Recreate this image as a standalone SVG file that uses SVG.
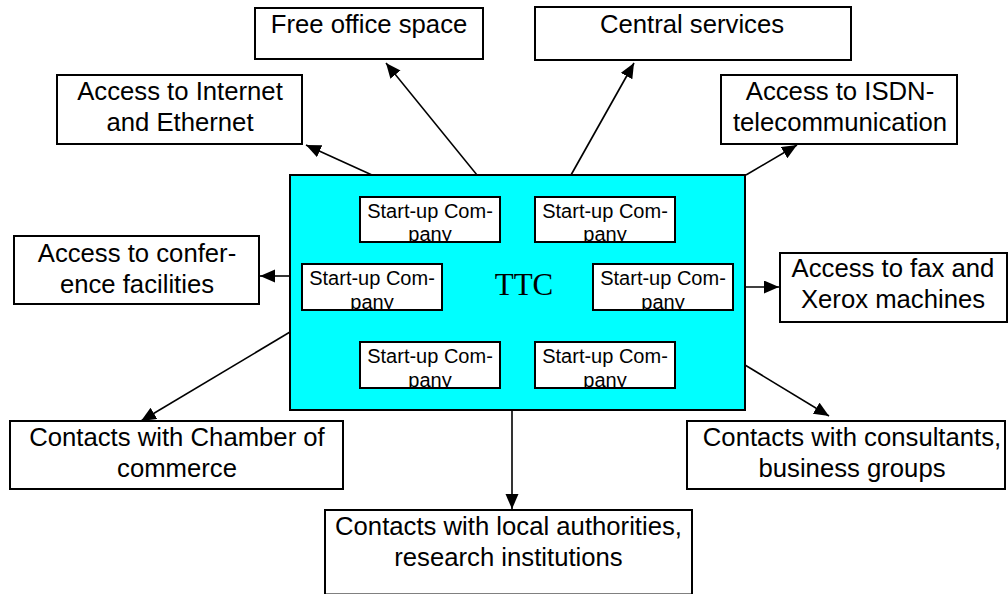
<svg xmlns="http://www.w3.org/2000/svg" width="1008" height="594" viewBox="0 0 1008 594">
<style>
.box{fill:#fff;stroke:#000;stroke-width:2}
.t{font-family:"Liberation Sans",Arial,sans-serif;font-size:25.7px;fill:#000;text-anchor:middle}
.s{font-family:"Liberation Sans",Arial,sans-serif;font-size:20px;fill:#000;text-anchor:middle}
.c{stroke:#000;stroke-width:1.6;fill:none;marker-end:url(#ah)}
</style>
<defs>
<marker id="ah" markerUnits="userSpaceOnUse" markerWidth="16" markerHeight="14" refX="15" refY="6.5" orient="auto">
<path d="M0,0 L15,6.5 L0,13 Z" fill="#000"/>
</marker>
<clipPath id="c1"><rect x="361" y="198" width="138" height="43"/></clipPath>
<clipPath id="c2"><rect x="536" y="198" width="138" height="43"/></clipPath>
<clipPath id="c3"><rect x="303" y="265" width="138" height="44"/></clipPath>
<clipPath id="c4"><rect x="594" y="265" width="138" height="44"/></clipPath>
<clipPath id="c5"><rect x="361" y="343" width="138" height="44"/></clipPath>
<clipPath id="c6"><rect x="536" y="343" width="138" height="44"/></clipPath>
</defs>
<g id="connectors">
<line class="c" x1="372" y1="175" x2="306" y2="145"/>
<line class="c" x1="477" y1="175" x2="386" y2="63"/>
<line class="c" x1="571" y1="175" x2="634" y2="63"/>
<line class="c" x1="746" y1="175" x2="797" y2="145"/>
<line class="c" x1="290" y1="276" x2="260" y2="276"/>
<line class="c" x1="745" y1="287" x2="779" y2="287"/>
<line class="c" x1="290" y1="332" x2="141" y2="421"/>
<line class="c" x1="745" y1="365" x2="829" y2="416"/>
<line class="c" x1="512" y1="410" x2="512" y2="509"/>
</g>
<g id="ttc">
<rect x="290" y="175" width="455" height="235" fill="#00ffff" stroke="#000" stroke-width="2"/>
<text x="524" y="295" font-family="'Liberation Serif','Times New Roman',serif" font-size="31" text-anchor="middle">TTC</text>
</g>
<g id="s1"><rect class="box" x="360" y="197" width="140" height="45"/><g clip-path="url(#c1)"><text class="s" x="430" y="218">Start-up Com-</text><text class="s" x="430" y="241">pany</text></g></g>
<g id="s2"><rect class="box" x="535" y="197" width="140" height="45"/><g clip-path="url(#c2)"><text class="s" x="605" y="218">Start-up Com-</text><text class="s" x="605" y="241">pany</text></g></g>
<g id="s3"><rect class="box" x="302" y="264" width="140" height="46"/><g clip-path="url(#c3)"><text class="s" x="372" y="285">Start-up Com-</text><text class="s" x="372" y="309">pany</text></g></g>
<g id="s4"><rect class="box" x="593" y="264" width="140" height="46"/><g clip-path="url(#c4)"><text class="s" x="663" y="285">Start-up Com-</text><text class="s" x="663" y="309">pany</text></g></g>
<g id="s5"><rect class="box" x="360" y="342" width="140" height="46"/><g clip-path="url(#c5)"><text class="s" x="430" y="363">Start-up Com-</text><text class="s" x="430" y="387">pany</text></g></g>
<g id="s6"><rect class="box" x="535" y="342" width="140" height="46"/><g clip-path="url(#c6)"><text class="s" x="605" y="363">Start-up Com-</text><text class="s" x="605" y="387">pany</text></g></g>
<g id="free-office"><rect class="box" x="255" y="8" width="228" height="51"/><text class="t" x="369" y="33">Free office space</text></g>
<g id="central"><rect class="box" x="535" y="7" width="316" height="53"/><text class="t" x="692" y="33">Central services</text></g>
<g id="internet"><rect class="box" x="57" y="75" width="245" height="69"/><text class="t" x="180" y="100">Access to Internet</text><text class="t" x="180" y="131">and Ethernet</text></g>
<g id="isdn"><rect class="box" x="721" y="75" width="236" height="69"/><text class="t" x="840" y="100">Access to ISDN-</text><text class="t" x="840" y="131">telecommunication</text></g>
<g id="conference"><rect class="box" x="14" y="236" width="245" height="68"/><text class="t" x="137" y="262">Access to confer-</text><text class="t" x="137" y="293">ence facilities</text></g>
<g id="fax"><rect class="box" x="780" y="253" width="227" height="69"/><text class="t" x="893" y="277">Access to fax and</text><text class="t" x="893" y="308">Xerox machines</text></g>
<g id="chamber"><rect class="box" x="10" y="421" width="333" height="68"/><text class="t" x="177" y="446">Contacts with Chamber of</text><text class="t" x="177" y="477">commerce</text></g>
<g id="consultants"><rect class="box" x="687" y="421" width="318" height="68"/><text class="t" x="852" y="446">Contacts with consultants,</text><text class="t" x="852" y="477">business groups</text></g>
<g id="local"><rect class="box" x="325" y="510" width="367" height="84.5"/><text class="t" x="508.5" y="535">Contacts with local authorities,</text><text class="t" x="508.5" y="566">research institutions</text></g>
</svg>
